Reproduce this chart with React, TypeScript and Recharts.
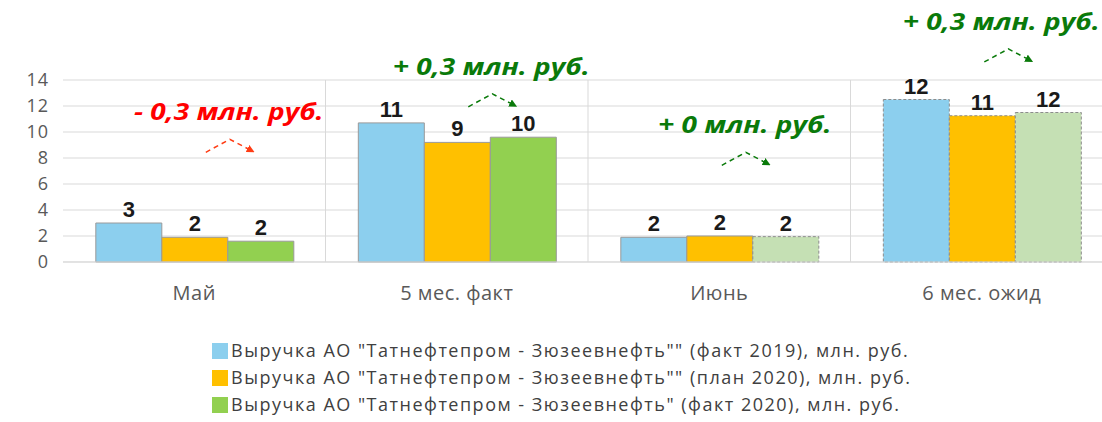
import { Bar, BarChart, CartesianGrid, Cell, LabelList, Legend, XAxis, YAxis } from "recharts";

const categories = ["Май", "5 мес. факт", "Июнь", "6 мес. ожид"];
const fact2019 = [3.0, 10.7, 1.9, 12.5];
const plan2020 = [1.9, 9.2, 2.0, 11.25];
const fact2020 = [1.6, 9.6, 1.95, 11.5];
const fact2019Labels = ["3", "11", "2", "12"];
const plan2020Labels = ["2", "9", "2", "11"];
const fact2020Labels = ["2", "10", "2", "12"];
// ожидаемые (пунктирные) столбцы
const fact2019Expected = [false, false, false, true];
const plan2020Expected = [false, false, false, true];
const fact2020Expected = [false, false, true, true];
const deltaNotes = ["- 0,3 млн. руб.", "+ 0,3 млн. руб.", "+ 0 млн. руб.", "+ 0,3 млн. руб."];
const noteLevels = [10.9, 14.4, 9.9, 17.85];
const yTicks = [0, 2, 4, 6, 8, 10, 12, 14];
const seriesNames = [
  'Выручка АО "Татнефтепром - Зюзеевнефть"" (факт 2019), млн. руб.',
  'Выручка АО "Татнефтепром - Зюзеевнефть"" (план 2020), млн. руб.',
  'Выручка АО "Татнефтепром - Зюзеевнефть" (факт 2020), млн. руб.',
];

const BLUE = "#8ccfee";
const ORANGE = "#ffc000";
const GREEN = "#92d050";
const PALE_GREEN = "#c5e0b4";

const data = categories.map((name, i) => ({
  name,
  fact2019: fact2019[i],
  plan2020: plan2020[i],
  fact2020: fact2020[i],
  l2019: fact2019Labels[i],
  lPlan: plan2020Labels[i],
  l2020: fact2020Labels[i],
  note: deltaNotes[i],
}));

const labelStyle = { fontFamily: "Liberation Sans, Arial", fontWeight: 700, fontSize: 22, fill: "#1a1a1a" };
// small horizontal nudges of the notes relative to the green bar edge
const noteNudge = [1, 1, -8, -14];

function cellStyle(expected: boolean, fill: string) {
  return expected
    ? { fill, stroke: "#8c8c8c", strokeWidth: 1, strokeDasharray: "3 2" }
    : { fill, stroke: "#9a9a9a", strokeWidth: 1 };
}

function DeltaNote(props: any) {
  const vb = props.viewBox || props;
  const { x, y, height } = vb;
  const i = props.index;
  const pxPerUnit = height / fact2020[i];
  const base = y + height - noteLevels[i] * pxPerUnit;
  const cx = x + noteNudge[i];
  const ax = x + Math.max(noteNudge[i], -8);
  const text = String(props.value);
  const color = text.startsWith("-") ? "#ff0000" : "#0a7a0a";
  const arrow = text.startsWith("-") ? "#ff3c14" : "#0a7a0a";
  const id = `arr${i}`;
  return (
    <g>
      <defs>
        <marker id={id} markerWidth="8" markerHeight="8" refX="6" refY="4" orient="auto" markerUnits="userSpaceOnUse">
          <path d="M0,0 L8,4 L0,8 z" fill={arrow} />
        </marker>
      </defs>
      <text
        transform={`translate(${cx},${base}) scale(1.22,1)`}
        textAnchor="middle"
        fill={color}
        style={{ fontFamily: "Open Sans", fontStyle: "italic", fontWeight: 700, fontSize: 23 }}
      >
        {text}
      </text>
      <polyline
        points={`${ax - 23},${base + 32} ${ax + 1},${base + 19} ${ax + 24},${base + 31}`}
        fill="none"
        stroke={arrow}
        strokeWidth={1.5}
        strokeDasharray="5 4"
        markerEnd={`url(#${id})`}
      />
    </g>
  );
}

function LegendBox({ payload }: any) {
  const items = [...(payload || [])].sort(
    (a: any, b: any) => seriesNames.indexOf(a.value) - seriesNames.indexOf(b.value)
  );
  return (
    <div style={{ fontFamily: "Open Sans", fontSize: 18, letterSpacing: 1.5, color: "#404040", lineHeight: "27px" }}>
      {items.map((p: any, i: number) => (
        <div key={i} style={{ display: "flex", alignItems: "center", whiteSpace: "nowrap" }}>
          <span style={{ width: 16, height: 16, background: p.color, marginRight: 3, display: "inline-block" }} />
          {p.value}
        </div>
      ))}
    </div>
  );
}

export default function App() {
  return (
    <div style={{ position: "absolute", left: 0, top: 0, width: 1102, height: 422, overflow: "hidden", background: "#fff" }}>
      <BarChart
        width={1120}
        height={422}
        data={data}
        margin={{ top: 80, right: 7, bottom: 130, left: 0 }}
        barCategoryGap="12.5%"
        barGap={0}
      >
        <CartesianGrid
          stroke="#d9d9d9"
          verticalCoordinatesGenerator={({ offset }: any) => [1, 2, 3].map((k) => offset.left + (k * offset.width) / 4)}
        />
        <XAxis
          dataKey="name"
          axisLine={{ stroke: "#d9d9d9" }}
          tickLine={false}
          tickMargin={18}
          tick={{ fill: "#595959", fontSize: 20, fontFamily: "Open Sans", letterSpacing: 0.5 }}
        />
        <YAxis
          width={63}
          domain={[0, 14]}
          ticks={yTicks}
          interval={0}
          axisLine={false}
          tickLine={false}
          tickMargin={8}
          tick={{ fill: "#595959", fontSize: 18, fontFamily: "Open Sans", letterSpacing: 1 }}
        />
        <Legend
          layout="vertical"
          align="center"
          verticalAlign="middle"
          content={<LegendBox />}
          wrapperStyle={{ left: 212, top: 337, width: "auto" }}
        />
        <Bar dataKey="fact2019" name={seriesNames[0]} fill={BLUE} isAnimationActive={false}>
          {data.map((_, i) => (
            <Cell key={i} {...cellStyle(fact2019Expected[i], BLUE)} />
          ))}
          <LabelList dataKey="l2019" position="top" offset={6} style={labelStyle} />
        </Bar>
        <Bar dataKey="plan2020" name={seriesNames[1]} fill={ORANGE} isAnimationActive={false}>
          {data.map((_, i) => (
            <Cell key={i} {...cellStyle(plan2020Expected[i], ORANGE)} />
          ))}
          <LabelList dataKey="lPlan" position="top" offset={6} style={labelStyle} />
        </Bar>
        <Bar dataKey="fact2020" name={seriesNames[2]} fill={GREEN} isAnimationActive={false}>
          {data.map((_, i) => (
            <Cell key={i} {...cellStyle(fact2020Expected[i], fact2020Expected[i] && i > 1 ? PALE_GREEN : GREEN)} />
          ))}
          <LabelList dataKey="l2020" position="top" offset={6} style={labelStyle} />
          <LabelList dataKey="note" content={<DeltaNote />} />
        </Bar>
      </BarChart>
    </div>
  );
}
